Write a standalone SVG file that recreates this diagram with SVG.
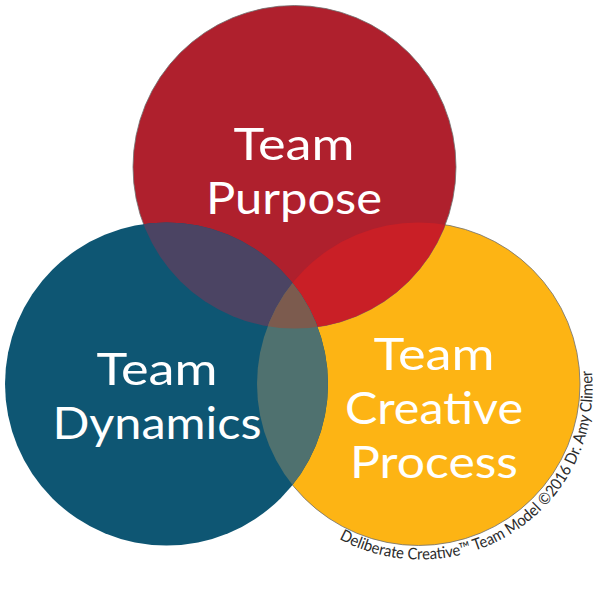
<svg xmlns="http://www.w3.org/2000/svg" width="600" height="600" viewBox="0 0 600 600">
<style>
.c{stroke:none}
.o{fill:none;stroke:#6f6f6f;stroke-width:.8}
.t{font-family:"Lato","Open Sans",sans-serif;font-size:45px;fill:#fff;text-anchor:middle}
.s{font-family:"Lato","Open Sans",sans-serif;font-size:16px;fill:#2b2b2b}
</style>
<defs>
<clipPath id="cT"><circle cx="294.5" cy="167" r="161.5"/></clipPath>
<clipPath id="cL"><circle cx="166.5" cy="384" r="161.5"/></clipPath>
<clipPath id="cR"><circle cx="418.5" cy="384" r="161.5"/></clipPath>
<path id="arc" d="M339 539A172 172 0 0 0 590 358"/>
</defs>
<rect width="600" height="600" fill="#fff"/>
<g id="team-creative-process">
<circle class="c" cx="418.5" cy="384" r="161.5" fill="#FDB414"/>
<circle class="o" cx="418.5" cy="384" r="161.5"/>
<text class="t" x="434" y="370" textLength="121" lengthAdjust="spacingAndGlyphs">Team</text>
<text class="t" x="434" y="424" textLength="178" lengthAdjust="spacingAndGlyphs">Creative</text>
<text class="t" x="434" y="478" textLength="168" lengthAdjust="spacingAndGlyphs">Process</text>
</g>
<g id="team-purpose">
<circle class="c" cx="294.5" cy="167" r="161.5" fill="#AF202D"/>
<circle class="o" cx="294.5" cy="167" r="161.5"/>
<g clip-path="url(#cT)"><circle class="c" cx="418.5" cy="384" r="161.5" fill="#C91F26"/></g>
<text class="t" x="294" y="160" textLength="121" lengthAdjust="spacingAndGlyphs">Team</text>
<text class="t" x="294" y="214" textLength="176" lengthAdjust="spacingAndGlyphs">Purpose</text>
</g>
<g id="team-dynamics">
<circle class="c" cx="166.5" cy="384" r="161.5" fill="#0E5673"/>
<g clip-path="url(#cL)">
<circle class="c" cx="294.5" cy="167" r="161.5" fill="#4B4463"/>
<circle class="c" cx="418.5" cy="384" r="161.5" fill="#4F716F"/>
<g clip-path="url(#cR)"><circle class="c" cx="294.5" cy="167" r="161.5" fill="#7C5B4E"/></g>
</g>
<text class="t" x="157" y="385" textLength="121" lengthAdjust="spacingAndGlyphs">Team</text>
<text class="t" x="157" y="439" textLength="209" lengthAdjust="spacingAndGlyphs">Dynamics</text>
</g>
<g id="credit">
<text class="s"><textPath href="#arc" textLength="372" lengthAdjust="spacingAndGlyphs">Deliberate Creative™ Team Model ©2016 Dr. Amy Climer</textPath></text>
</g>
</svg>
